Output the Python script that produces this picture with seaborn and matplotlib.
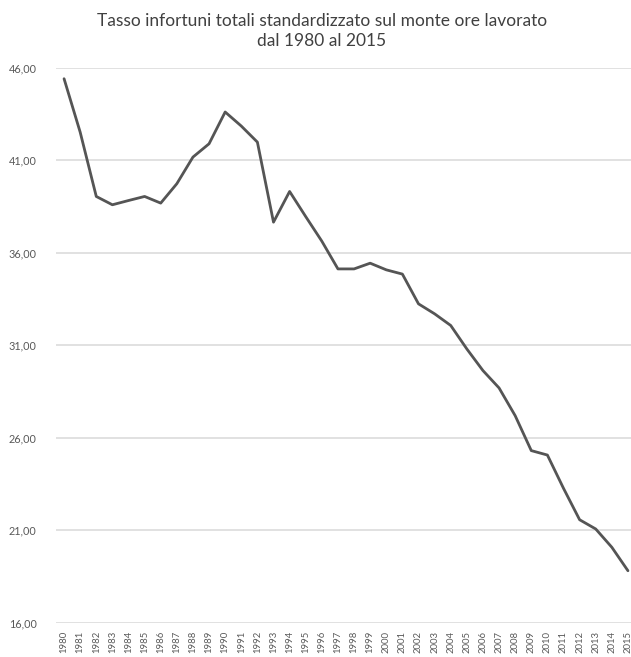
import matplotlib
matplotlib.use("Agg")
import matplotlib.pyplot as plt
import seaborn as sns
import pandas as pd

# Tasso infortuni standardizzato sul monte ore lavorato, 1980-2015
years = list(range(1980, 2016))
tasso = [45.42, 42.53, 39.05, 38.60, 38.83, 39.05, 38.69, 39.74, 41.18, 41.90,
         43.62, 42.86, 41.99, 37.66, 39.32, 37.96, 36.63, 35.13, 35.13, 35.44,
         35.08, 34.85, 33.24, 32.70, 32.07, 30.80, 29.63, 28.69, 27.19, 25.30,
         25.06, 23.26, 21.56, 21.06, 20.07, 18.80]
y_ticks = [16, 21, 26, 31, 36, 41, 46]
y_tick_labels = ["16,00", "21,00", "26,00", "31,00", "36,00", "41,00", "46,00"]
title = "Tasso infortuni totali standardizzato sul monte ore lavorato\ndal 1980 al 2015"

df = pd.DataFrame({"anno": years, "tasso": tasso})

sns.set_theme(style="white")
plt.rcParams["font.family"] = ["Lato", "DejaVu Sans"]

W, H = 631, 657
fig = plt.figure(figsize=(W / 100, H / 100), dpi=100)
ax = fig.add_axes([56 / W, 34.5 / H, 580 / W, 554.5 / H])

sns.lineplot(data=df, x="anno", y="tasso", ax=ax, color="#555555",
             linewidth=2.0, zorder=3)

ax.set_xlim(1979.5, 2015.5)
ax.set_ylim(16, 46)
ax.set_yticks(y_ticks)
ax.set_yticklabels(y_tick_labels)
ax.set_xticks(years)
ax.set_xticklabels([str(y) for y in years], rotation=90)
ax.tick_params(axis="y", length=0, pad=14, labelsize=7.8, labelcolor="#595959")
ax.tick_params(axis="x", length=0, pad=6, labelsize=6.8, labelcolor="#595959")
ax.yaxis.grid(True, color="#d9d9d9", linewidth=1.1)
ax.xaxis.grid(False)
ax.set_xlabel("")
ax.set_ylabel("")
for s in ax.spines.values():
    s.set_visible(False)

fig.text(322 / W, 1 - 31 / H, title, ha="center", va="center",
         fontsize=12.5, color="#404040", linespacing=1.3)

fig.savefig("out.png", dpi=100, facecolor="white")
